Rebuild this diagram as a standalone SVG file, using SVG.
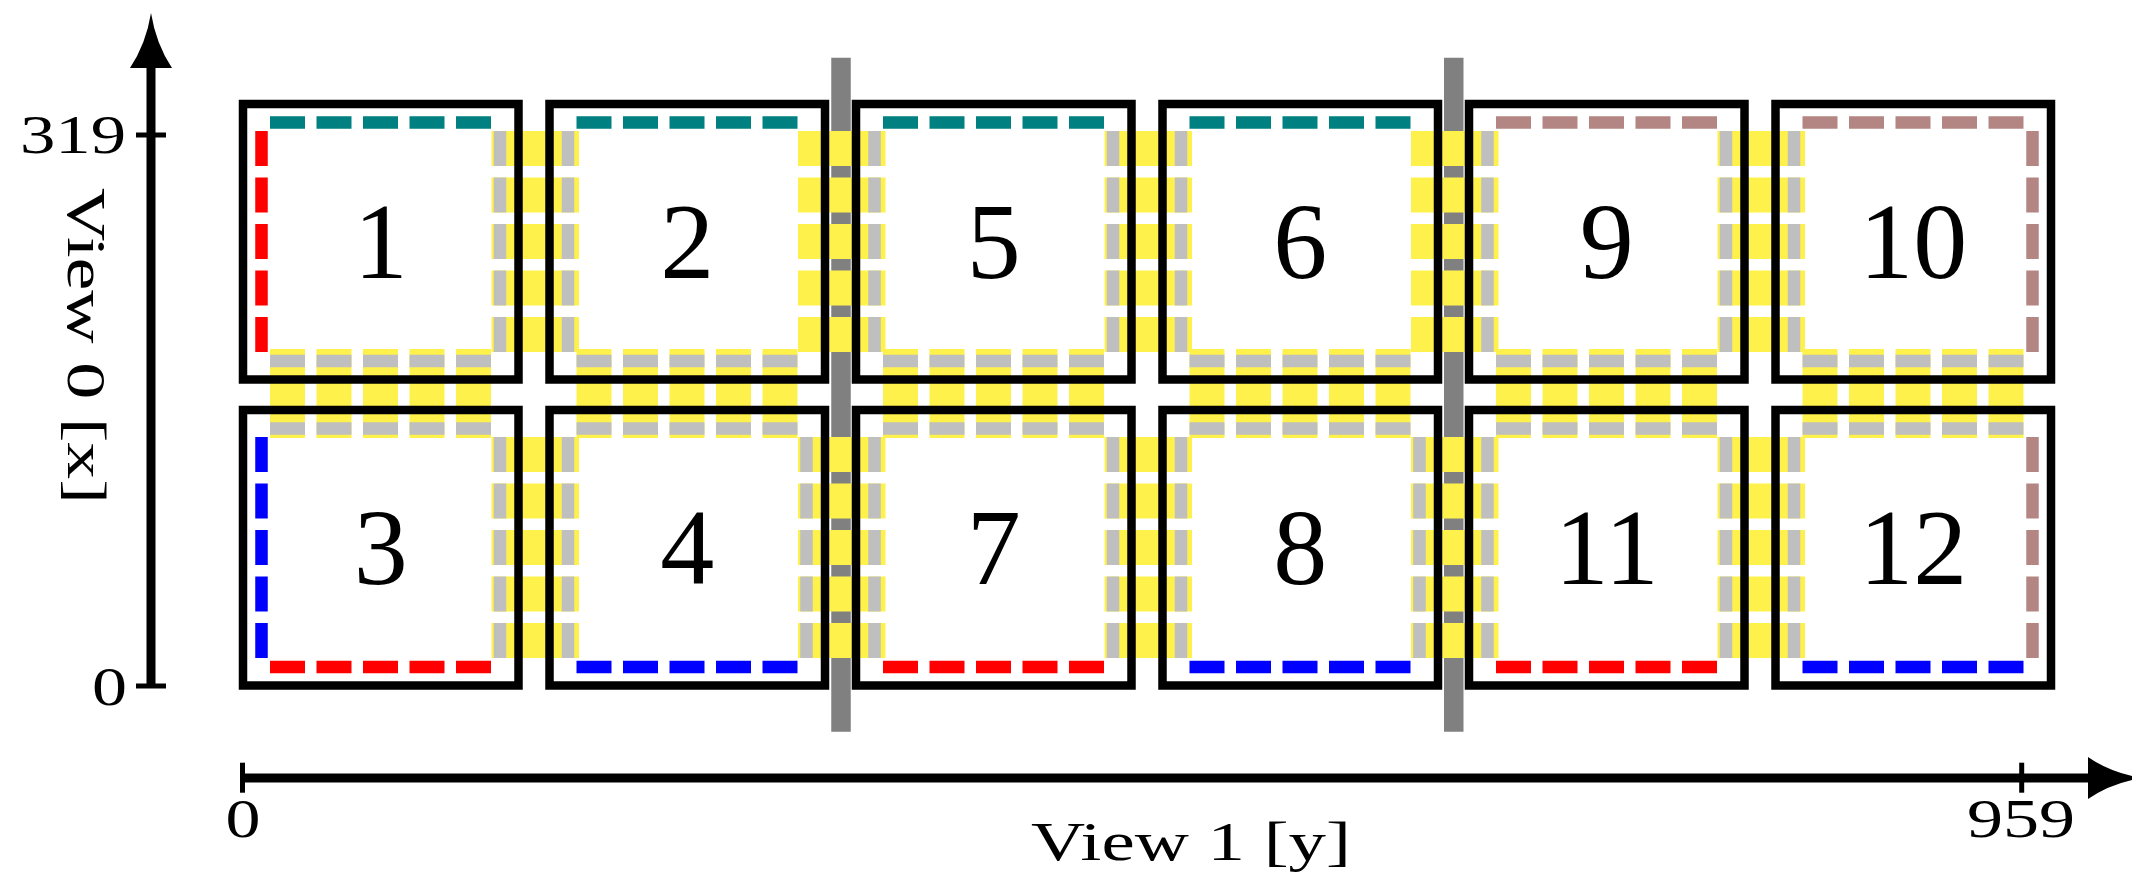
<svg xmlns="http://www.w3.org/2000/svg" width="2132" height="874" viewBox="0 0 2132 874">
  <defs>
    <style>
      .tile { fill: none; stroke: #000000; stroke-width: 8.5; }
      .num { font-family: "Liberation Serif", "Times New Roman", serif; font-size: 108px; fill: #000; text-anchor: middle; }
      .lbl { font-family: "Liberation Serif", "Times New Roman", serif; font-size: 55px; fill: #000; }
      .d { fill: none; stroke-width: 12.5; stroke-dasharray: 35 11.5; stroke-linecap: butt; }
      .teal { stroke: #008080; }
      .red { stroke: #ff0000; }
      .blue { stroke: #0000ff; }
      .rose { stroke: #b38684; }
      .grey { stroke: #bfbfbf; }
      .overlap { fill: none; stroke: #fff14c; stroke-dasharray: 35 11.5; stroke-linecap: butt; }
      .ov-v { stroke-width: 87.5; }
      .ov-h { stroke-width: 89; }
      .cut { stroke: #808080; stroke-width: 19.5; }
      .axis { stroke: #000; stroke-width: 9; fill: none; }
      .tick { stroke: #000; stroke-width: 5; }
      .head { fill: #000; }
    </style>
  </defs>

  <!-- partition cuts -->
  <g id="cuts">
    <line class="cut" x1="841" y1="57.7" x2="841" y2="731.7"/>
    <line class="cut" x1="1453.75" y1="57.7" x2="1453.75" y2="731.7"/>
  </g>

  <!-- overlap regions between neighbouring tiles -->
  <g id="connectors">
    <!-- vertical bands, row 1 -->
    <line class="overlap ov-v" x1="535.25" y1="131" x2="535.25" y2="352.5"/>
    <line class="overlap ov-v" x1="841.75" y1="131" x2="841.75" y2="352.5"/>
    <line class="overlap ov-v" x1="1148.25" y1="131" x2="1148.25" y2="352.5"/>
    <line class="overlap ov-v" x1="1454.75" y1="131" x2="1454.75" y2="352.5"/>
    <line class="overlap ov-v" x1="1761.25" y1="131" x2="1761.25" y2="352.5"/>
    <!-- vertical bands, row 2 -->
    <line class="overlap ov-v" x1="535.25" y1="437" x2="535.25" y2="658.5"/>
    <line class="overlap ov-v" x1="841.75" y1="437" x2="841.75" y2="658.5"/>
    <line class="overlap ov-v" x1="1148.25" y1="437" x2="1148.25" y2="658.5"/>
    <line class="overlap ov-v" x1="1454.75" y1="437" x2="1454.75" y2="658.5"/>
    <line class="overlap ov-v" x1="1761.25" y1="437" x2="1761.25" y2="658.5"/>
    <!-- horizontal bands between rows -->
    <line class="overlap ov-h" x1="270" y1="393.5" x2="491.5" y2="393.5"/>
    <line class="overlap ov-h" x1="576.5" y1="393.5" x2="798" y2="393.5"/>
    <line class="overlap ov-h" x1="883" y1="393.5" x2="1104.5" y2="393.5"/>
    <line class="overlap ov-h" x1="1189.5" y1="393.5" x2="1411" y2="393.5"/>
    <line class="overlap ov-h" x1="1496" y1="393.5" x2="1717.5" y2="393.5"/>
    <line class="overlap ov-h" x1="1802.5" y1="393.5" x2="2024" y2="393.5"/>
  </g>

  <!-- tiles: row 1 -->
  <g id="tile-1">
    <rect class="tile" x="243" y="104" width="275.5" height="275.5"/>
    <line class="d teal" x1="270" y1="122.5" x2="491.5" y2="122.5"/>
    <line class="d red" x1="261.5" y1="131" x2="261.5" y2="352.5"/>
    <line class="d grey" x1="500" y1="131" x2="500" y2="352.5"/>
    <line class="d grey" x1="270" y1="361" x2="491.5" y2="361"/>
    <text class="num" x="380.75" y="277.75">1</text>
  </g>
  <g id="tile-2">
    <rect class="tile" x="549.5" y="104" width="275.5" height="275.5"/>
    <line class="d teal" x1="576.5" y1="122.5" x2="798" y2="122.5"/>
    <line class="d grey" x1="568" y1="131" x2="568" y2="352.5"/>
    <line class="d grey" x1="576.5" y1="361" x2="798" y2="361"/>
    <text class="num" x="687.25" y="277.75">2</text>
  </g>
  <g id="tile-5">
    <rect class="tile" x="856" y="104" width="275.5" height="275.5"/>
    <line class="d teal" x1="883" y1="122.5" x2="1104.5" y2="122.5"/>
    <line class="d grey" x1="874.5" y1="131" x2="874.5" y2="352.5"/>
    <line class="d grey" x1="1113" y1="131" x2="1113" y2="352.5"/>
    <line class="d grey" x1="883" y1="361" x2="1104.5" y2="361"/>
    <text class="num" x="993.75" y="277.75">5</text>
  </g>
  <g id="tile-6">
    <rect class="tile" x="1162.5" y="104" width="275.5" height="275.5"/>
    <line class="d teal" x1="1189.5" y1="122.5" x2="1411" y2="122.5"/>
    <line class="d grey" x1="1181" y1="131" x2="1181" y2="352.5"/>
    <line class="d grey" x1="1189.5" y1="361" x2="1411" y2="361"/>
    <text class="num" x="1300.25" y="277.75">6</text>
  </g>
  <g id="tile-9">
    <rect class="tile" x="1469" y="104" width="275.5" height="275.5"/>
    <line class="d rose" x1="1496" y1="122.5" x2="1717.5" y2="122.5"/>
    <line class="d grey" x1="1487.5" y1="131" x2="1487.5" y2="352.5"/>
    <line class="d grey" x1="1726" y1="131" x2="1726" y2="352.5"/>
    <line class="d grey" x1="1496" y1="361" x2="1717.5" y2="361"/>
    <text class="num" x="1606.75" y="277.75">9</text>
  </g>
  <g id="tile-10">
    <rect class="tile" x="1775.5" y="104" width="275.5" height="275.5"/>
    <line class="d rose" x1="1802.5" y1="122.5" x2="2024" y2="122.5"/>
    <line class="d grey" x1="1794" y1="131" x2="1794" y2="352.5"/>
    <line class="d rose" x1="2032.5" y1="131" x2="2032.5" y2="352.5"/>
    <line class="d grey" x1="1802.5" y1="361" x2="2024" y2="361"/>
    <text class="num" x="1913.25" y="277.75">10</text>
  </g>

  <!-- tiles: row 2 -->
  <g id="tile-3">
    <rect class="tile" x="243" y="410" width="275.5" height="275.5"/>
    <line class="d grey" x1="270" y1="428.5" x2="491.5" y2="428.5"/>
    <line class="d blue" x1="261.5" y1="437" x2="261.5" y2="658.5"/>
    <line class="d grey" x1="500" y1="437" x2="500" y2="658.5"/>
    <line class="d red" x1="270" y1="667" x2="491.5" y2="667"/>
    <text class="num" x="380.75" y="583.75">3</text>
  </g>
  <g id="tile-4">
    <rect class="tile" x="549.5" y="410" width="275.5" height="275.5"/>
    <line class="d grey" x1="576.5" y1="428.5" x2="798" y2="428.5"/>
    <line class="d grey" x1="568" y1="437" x2="568" y2="658.5"/>
    <line class="d grey" x1="806.5" y1="437" x2="806.5" y2="658.5"/>
    <line class="d blue" x1="576.5" y1="667" x2="798" y2="667"/>
    <text class="num" x="687.25" y="583.75">4</text>
  </g>
  <g id="tile-7">
    <rect class="tile" x="856" y="410" width="275.5" height="275.5"/>
    <line class="d grey" x1="883" y1="428.5" x2="1104.5" y2="428.5"/>
    <line class="d grey" x1="874.5" y1="437" x2="874.5" y2="658.5"/>
    <line class="d grey" x1="1113" y1="437" x2="1113" y2="658.5"/>
    <line class="d red" x1="883" y1="667" x2="1104.5" y2="667"/>
    <text class="num" x="993.75" y="583.75">7</text>
  </g>
  <g id="tile-8">
    <rect class="tile" x="1162.5" y="410" width="275.5" height="275.5"/>
    <line class="d grey" x1="1189.5" y1="428.5" x2="1411" y2="428.5"/>
    <line class="d grey" x1="1181" y1="437" x2="1181" y2="658.5"/>
    <line class="d grey" x1="1419.5" y1="437" x2="1419.5" y2="658.5"/>
    <line class="d blue" x1="1189.5" y1="667" x2="1411" y2="667"/>
    <text class="num" x="1300.25" y="583.75">8</text>
  </g>
  <g id="tile-11">
    <rect class="tile" x="1469" y="410" width="275.5" height="275.5"/>
    <line class="d grey" x1="1496" y1="428.5" x2="1717.5" y2="428.5"/>
    <line class="d grey" x1="1487.5" y1="437" x2="1487.5" y2="658.5"/>
    <line class="d grey" x1="1726" y1="437" x2="1726" y2="658.5"/>
    <line class="d red" x1="1496" y1="667" x2="1717.5" y2="667"/>
    <text class="num" x="1606.75" y="583.75">11</text>
  </g>
  <g id="tile-12">
    <rect class="tile" x="1775.5" y="410" width="275.5" height="275.5"/>
    <line class="d grey" x1="1802.5" y1="428.5" x2="2024" y2="428.5"/>
    <line class="d grey" x1="1794" y1="437" x2="1794" y2="658.5"/>
    <line class="d rose" x1="2032.5" y1="437" x2="2032.5" y2="658.5"/>
    <line class="d blue" x1="1802.5" y1="667" x2="2024" y2="667"/>
    <text class="num" x="1913.25" y="583.75">12</text>
  </g>

  <!-- axes -->
  <g id="axis-x0">
    <line class="axis" x1="151" y1="686" x2="151" y2="64"/>
    <path class="head" d="M151,13 Q156,44 172,68 L130,68 Q146,44 151,13 Z"/>
    <line class="tick" x1="136" y1="135" x2="166" y2="135"/>
    <line class="tick" x1="136" y1="686" x2="166" y2="686"/>
    <text class="lbl" x="20" y="153" textLength="106" lengthAdjust="spacingAndGlyphs">319</text>
    <text class="lbl" x="92" y="705" textLength="35" lengthAdjust="spacingAndGlyphs">0</text>
    <text class="lbl" transform="translate(68,188) rotate(90)" x="0" y="0" textLength="316" lengthAdjust="spacingAndGlyphs">View 0 [x]</text>
  </g>
  <g id="axis-y1">
    <line class="axis" x1="242.5" y1="778" x2="2092" y2="778"/>
    <path class="head" d="M2142,778 Q2111,783 2088,799 L2088,757 Q2111,773 2142,778 Z"/>
    <line class="tick" x1="242.5" y1="762.7" x2="242.5" y2="792.7"/>
    <line class="tick" x1="2021.7" y1="762.7" x2="2021.7" y2="792.7"/>
    <text class="lbl" x="225.5" y="837" textLength="35" lengthAdjust="spacingAndGlyphs">0</text>
    <text class="lbl" x="1967" y="837" textLength="108" lengthAdjust="spacingAndGlyphs">959</text>
    <text class="lbl" x="1031" y="860" textLength="320" lengthAdjust="spacingAndGlyphs">View 1 [y]</text>
  </g>
</svg>
